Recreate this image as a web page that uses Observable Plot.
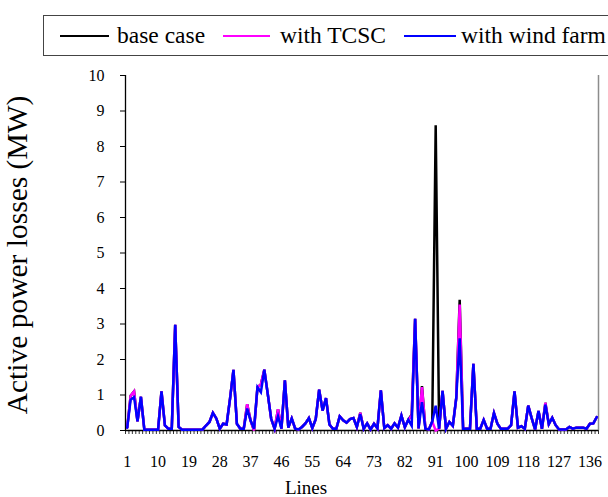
<!DOCTYPE html>
<html>
<head>
<meta charset="utf-8">
<script src="https://cdn.jsdelivr.net/npm/d3@7"></script>
<script src="https://cdn.jsdelivr.net/npm/@observablehq/plot@0.6"></script>
<style>
  html, body { margin: 0; padding: 0; background: #fff; overflow: hidden; }
  #page { position: relative; width: 608px; height: 497px; overflow: hidden; font-family: "Liberation Serif", "Times New Roman", serif; }
  #legend { position: relative; width: 608px; height: 62px; }
  #legend .box { position: absolute; left: 43px; top: 15px; width: 600px; height: 41px; border: 1px solid #444; box-sizing: border-box; }
  #legend .swatch { position: absolute; top: 35px; height: 2px; }
  #legend .label { position: absolute; top: 21px; font-size: 23.5px; line-height: 28px; color: #000; white-space: nowrap; font-family: "Liberation Serif", "Times New Roman", serif; }
  #chart svg, #chart svg text { font-family: "Liberation Serif", "Times New Roman", serif; }
</style>
</head>
<body>
<div id="page">
  <div id="legend"></div>
  <div id="chart"></div>
</div>
<script>
// Active power losses per transmission line, in MW
const lineCount = 138;
const xTickLabels = [1, 10, 19, 28, 37, 46, 55, 64, 73, 82, 91, 100, 109, 118, 127, 136];
const yTicks = [0, 1, 2, 3, 4, 5, 6, 7, 8, 9, 10];

const baseCase = [
  0.08, 0.98, 1.10, 0.26, 0.95, 0.02, 0.02, 0.02, 0.02, 0.02,
  1.10, 0.14, 0.05, 0.05, 2.98, 0.10, 0.02, 0.02, 0.02, 0.02,
  0.02, 0.02, 0.03, 0.14, 0.24, 0.50, 0.34, 0.05, 0.19, 0.17,
  0.90, 1.71, 0.19, 0.05, 0.05, 0.74, 0.28, 0.00, 1.22, 1.30,
  1.71, 1.03, 0.33, 0.05, 0.60, 0.05, 1.41, 0.08, 0.34, 0.05,
  0.03, 0.10, 0.20, 0.35, 0.07, 0.32, 1.15, 0.56, 0.91, 0.17,
  0.05, 0.05, 0.40, 0.29, 0.22, 0.32, 0.35, 0.10, 0.50, 0.05,
  0.20, 0.03, 0.19, 0.06, 1.13, 0.07, 0.15, 0.05, 0.20, 0.08,
  0.42, 0.09, 0.30, 0.45, 3.15, 0.06, 1.25, 0.05, 0.03, 0.25,
  8.60, 0.05, 1.12, 0.05, 0.24, 0.13, 0.92, 3.68, 0.05, 0.05,
  0.05, 1.88, 0.05, 0.05, 0.30, 0.05, 0.05, 0.49, 0.19, 0.05,
  0.05, 0.05, 0.15, 1.10, 0.08, 0.12, 0.05, 0.70, 0.35, 0.03,
  0.55, 0.05, 0.78, 0.18, 0.36, 0.15, 0.03, 0.03, 0.03, 0.10,
  0.05, 0.08, 0.08, 0.08, 0.05, 0.19, 0.20, 0.38
];

const withTCSC = [
  0.08, 0.98, 1.10, 0.26, 0.95, 0.02, 0.02, 0.02, 0.02, 0.02,
  1.10, 0.14, 0.05, 0.05, 2.98, 0.10, 0.02, 0.02, 0.02, 0.02,
  0.02, 0.02, 0.03, 0.14, 0.24, 0.50, 0.34, 0.05, 0.19, 0.17,
  0.90, 1.71, 0.19, 0.05, 0.05, 0.74, 0.28, 0.00, 1.22, 1.30,
  1.71, 1.03, 0.33, 0.05, 0.60, 0.05, 1.41, 0.08, 0.34, 0.05,
  0.03, 0.10, 0.20, 0.35, 0.07, 0.32, 1.15, 0.56, 0.91, 0.17,
  0.05, 0.05, 0.40, 0.29, 0.22, 0.32, 0.35, 0.10, 0.50, 0.05,
  0.20, 0.03, 0.19, 0.06, 1.13, 0.07, 0.15, 0.05, 0.20, 0.08,
  0.42, 0.09, 0.30, 0.42, 3.15, 0.06, 1.22, 0.05, 0.03, 0.25,
  0.00, 0.05, 1.12, 0.05, 0.24, 0.13, 0.92, 3.55, 0.05, 0.05,
  0.05, 1.88, 0.05, 0.05, 0.30, 0.05, 0.05, 0.49, 0.19, 0.05,
  0.05, 0.05, 0.15, 1.10, 0.08, 0.12, 0.05, 0.70, 0.35, 0.03,
  0.55, 0.05, 0.78, 0.18, 0.36, 0.15, 0.03, 0.03, 0.03, 0.10,
  0.05, 0.08, 0.08, 0.08, 0.05, 0.19, 0.20, 0.38
];

const withWindFarm = [
  0.08, 0.87, 0.94, 0.26, 0.95, 0.02, 0.02, 0.02, 0.02, 0.02,
  1.10, 0.14, 0.05, 0.05, 2.98, 0.10, 0.02, 0.02, 0.02, 0.02,
  0.02, 0.02, 0.03, 0.14, 0.24, 0.50, 0.34, 0.05, 0.19, 0.17,
  0.90, 1.71, 0.19, 0.05, 0.05, 0.62, 0.28, 0.05, 1.22, 1.08,
  1.71, 1.03, 0.33, 0.05, 0.40, 0.05, 1.41, 0.08, 0.34, 0.05,
  0.03, 0.10, 0.20, 0.35, 0.07, 0.32, 1.15, 0.56, 0.91, 0.17,
  0.05, 0.05, 0.40, 0.29, 0.22, 0.32, 0.35, 0.10, 0.46, 0.05,
  0.20, 0.03, 0.19, 0.06, 1.13, 0.07, 0.15, 0.05, 0.20, 0.08,
  0.42, 0.09, 0.30, 0.13, 3.15, 0.06, 0.80, 0.05, 0.03, 0.25,
  0.70, 0.05, 1.12, 0.05, 0.24, 0.13, 0.92, 2.60, 0.05, 0.05,
  0.05, 1.88, 0.05, 0.05, 0.30, 0.05, 0.05, 0.49, 0.19, 0.05,
  0.05, 0.05, 0.15, 1.10, 0.08, 0.12, 0.05, 0.70, 0.35, 0.03,
  0.55, 0.05, 0.73, 0.18, 0.36, 0.15, 0.03, 0.03, 0.03, 0.10,
  0.05, 0.08, 0.08, 0.08, 0.05, 0.19, 0.20, 0.38
];

const seriesNames = ["base case", "with TCSC", "with wind farm"];
const seriesColors = ["#000000", "#ff00ff", "#0000ff"];
const seriesValues = [baseCase, withTCSC, withWindFarm];

// Legend strip above the chart
const legend = document.getElementById("legend");
legend.innerHTML = `<div class="box"></div>`;
const swatchPos = [[60, 49], [223, 47], [404, 52]];
const labelPos = [117, 280, 461];
seriesNames.forEach((name, k) => {
  const sw = document.createElement("div");
  sw.className = "swatch";
  sw.style.left = swatchPos[k][0] + "px";
  sw.style.width = swatchPos[k][1] + "px";
  sw.style.background = seriesColors[k];
  legend.appendChild(sw);
  const lb = document.createElement("div");
  lb.className = "label";
  lb.style.left = labelPos[k] + "px";
  lb.textContent = name;
  legend.appendChild(lb);
});

// One row per line and series
const rows = seriesValues.flatMap((vals, k) =>
  vals.map((v, i) => ({line: i + 1, loss: v, series: seriesNames[k]}))
);

const font = '"Liberation Serif", "Times New Roman", serif';
const boundaries = d3.range(0.5, lineCount + 1, 1);

const chart = Plot.plot({
  width: 608,
  height: 435,
  marginTop: 13,
  marginBottom: 67,
  marginLeft: 125,
  marginRight: 10,
  style: {fontFamily: font, fontSize: "16px", background: "#fff", color: "#000"},
  x: {domain: [0.5, lineCount + 0.5]},
  y: {domain: [0, 10]},
  marks: [
    // right-hand frame edge
    Plot.ruleX([lineCount + 0.5], {y1: 0, y2: 10, stroke: "#8c8c8c", strokeWidth: 1.5}),
    // minor ticks between categories
    Plot.axisX(boundaries, {tickSize: 4, tickFormat: () => "", label: null, stroke: "#333"}),
    Plot.axisX(xTickLabels, {tickSize: 0, tickPadding: 25, fontSize: 16, label: null}),
    Plot.axisY(yTicks, {tickSize: 5, tickPadding: 16, fontSize: 16, label: null}),
    Plot.ruleY([0], {stroke: "#000", strokeWidth: 1.3}),
    Plot.ruleX([0.5], {stroke: "#000", strokeWidth: 1.3}),
    ...seriesNames.map((name, k) =>
      Plot.line(rows.filter(d => d.series === name), {
        x: "line", y: "loss", stroke: seriesColors[k], strokeWidth: 2.5, strokeLinejoin: "miter", strokeMiterlimit: 4
      })
    ),
    Plot.text(["Active power losses (MW)"], {
      frameAnchor: "left", rotate: -90, dx: -108, dy: 2,
      textAnchor: "middle", lineAnchor: "middle", fontSize: 29.5, fill: "#000"
    }),
    Plot.text(["Lines"], {
      frameAnchor: "bottom", dy: 57, dx: -56,
      textAnchor: "middle", lineAnchor: "middle", fontSize: 19, fill: "#000"
    })
  ]
});

document.getElementById("chart").appendChild(chart);
</script>
</body>
</html>
